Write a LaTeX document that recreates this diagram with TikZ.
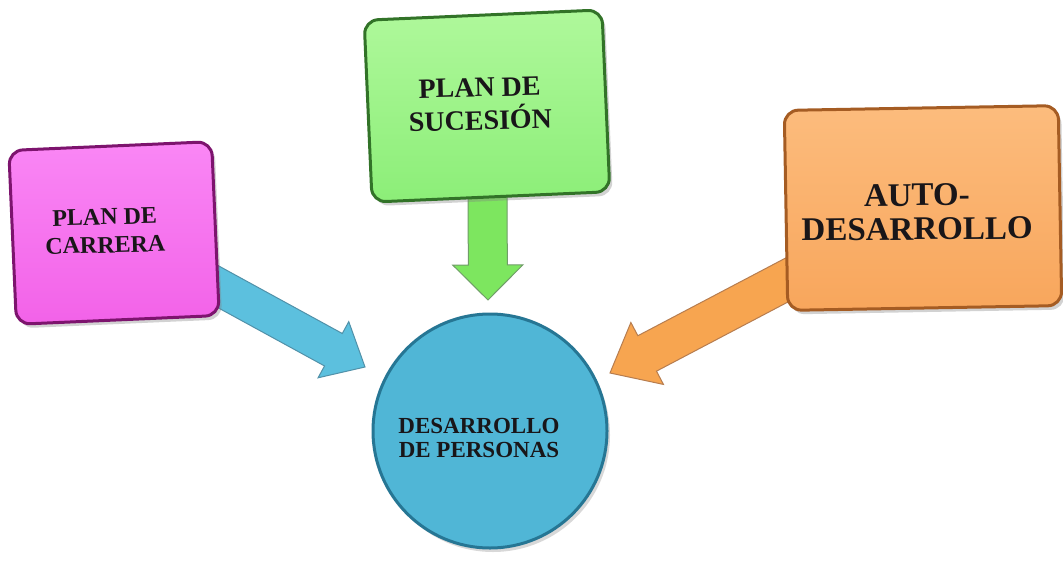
\documentclass[tikz,border=0pt]{standalone}
\usepackage{fontspec}
\setmainfont{Liberation Serif}
\usetikzlibrary{calc,shadows}
\definecolor{pinkmain}{RGB}{242,98,232}
\definecolor{pinklight}{RGB}{250,135,245}
\definecolor{pinkdark}{RGB}{125,20,110}
\definecolor{greenmain}{RGB}{140,238,120}
\definecolor{greenlight}{RGB}{175,248,155}
\definecolor{greendark}{RGB}{50,115,40}
\definecolor{orangemain}{RGB}{248,166,92}
\definecolor{orangelight}{RGB}{252,188,125}
\definecolor{orangedark}{RGB}{165,92,35}
\definecolor{bluemain}{RGB}{80,182,214}
\definecolor{bluedark}{RGB}{38,118,148}
\definecolor{bluearrow}{RGB}{92,192,222}
\definecolor{greenarrow}{RGB}{125,230,95}
\definecolor{orangearrow}{RGB}{247,165,80}
\definecolor{txt}{RGB}{25,22,25}
\newcommand{\blkarrow}[7]{%
  \coordinate (#1-H) at ($(#2)!#5!(#1)$);
  \filldraw[fill=#6,draw=#7,line width=1pt,line join=miter]
    ($(#1)!#3!90:(#2)$) -- ($(#1-H)!#3!90:(#2)$) -- ($(#1-H)!#4!90:(#2)$) -- (#2)
    -- ($(#1-H)!#4!-90:(#2)$) -- ($(#1-H)!#3!-90:(#2)$) -- ($(#1)!#3!-90:(#2)$) -- cycle;}
\tikzset{
  box/.style={rectangle,rounded corners=14pt,line width=3pt,
    drop shadow={shadow xshift=3pt,shadow yshift=-4pt,opacity=0.35}},
  lbl/.style={align=center,text=txt,font=\bfseries,inner sep=0pt},
}
\begin{document}
\begin{tikzpicture}[x=1pt,y=-1pt]
\useasboundingbox[fill=white] (0,0) rectangle (1063,562);
% arrows (drawn first, boxes cover their starts)
\coordinate (gS) at (487.5,190);
\coordinate (gT) at (488,300);
\coordinate (bS) at (199.5,276.5);
\coordinate (bT) at (365,367);
\coordinate (oS) at (802,272);
\coordinate (oT) at (610,373);
\blkarrow{gS}{gT}{19.5pt}{35pt}{35pt}{greenarrow}{greendark!70}
\blkarrow{bS}{bT}{18.5pt}{32pt}{36pt}{bluearrow}{bluedark!80}
\blkarrow{oS}{oT}{20pt}{35pt}{42pt}{orangearrow}{orangedark!80}
% boxes
\node[box,draw=pinkdark,top color=pinklight,bottom color=pinkmain,
  minimum width=203pt,minimum height=174pt,rotate=2.5] (pc) at (114,233) {};
\node[box,draw=greendark,top color=greenlight,bottom color=greenmain,
  minimum width=238pt,minimum height=182pt,rotate=2.5] (ps) at (487,106) {};
\node[box,draw=orangedark,top color=orangelight,bottom color=orangemain,
  minimum width=274pt,minimum height=200pt,rotate=1] (ad) at (923,208) {};
\node[circle,draw=bluedark,line width=3pt,fill=bluemain,minimum size=234pt,
  drop shadow={shadow xshift=3pt,shadow yshift=-4pt,opacity=0.3}] (dp) at (490,431) {};
% texts
\node[lbl,font=\bfseries\fontsize{24}{28}\selectfont,rotate=1.5] (tpc) at (105,231) {PLAN DE\\CARRERA};
\node[lbl,font=\bfseries\fontsize{28}{33}\selectfont,rotate=1.5] (tps) at (480,104) {PLAN DE\\SUCESIÓN};
\node[lbl,font=\bfseries\fontsize{33}{34}\selectfont,rotate=0.5] (tad) at (917,212) {AUTO-\\DESARROLLO};
\node[lbl,font=\bfseries\fontsize{23}{24}\selectfont] (tdp) at (479,438) {DESARROLLO\\DE PERSONAS};
\end{tikzpicture}
\end{document}
